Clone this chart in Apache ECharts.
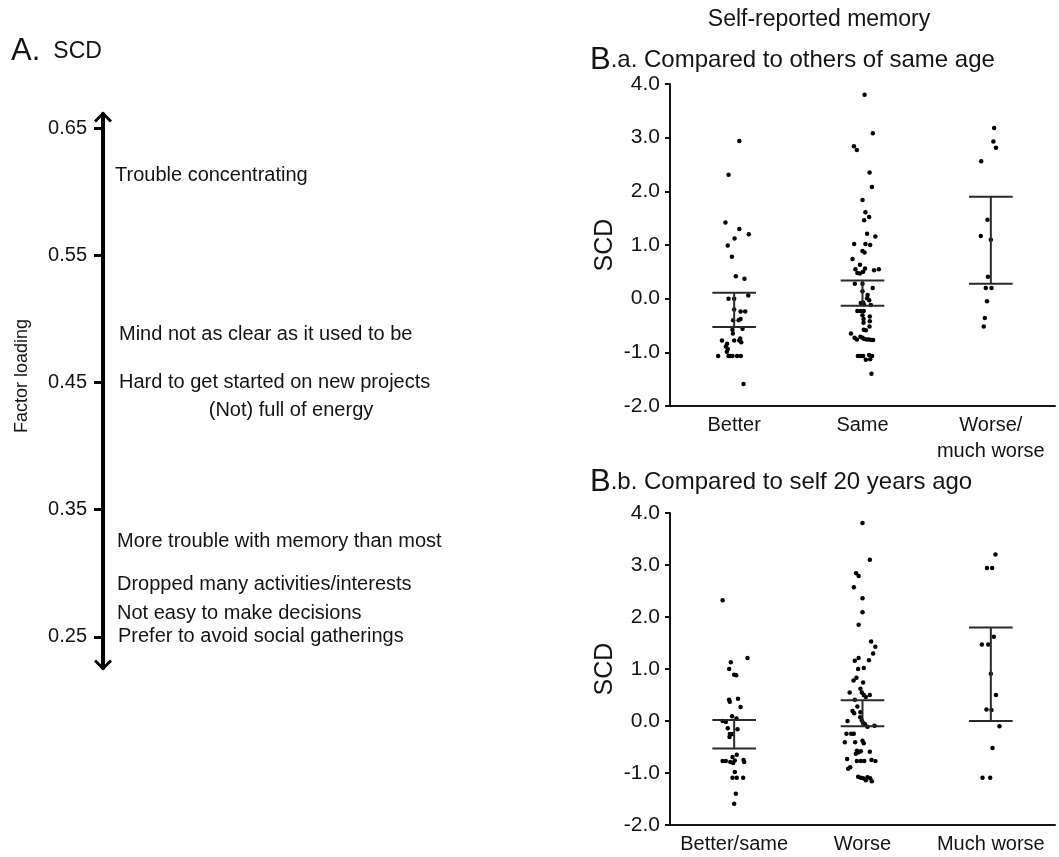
<!DOCTYPE html>
<html>
<head>
<meta charset="utf-8">
<title>SCD factor loadings and self-reported memory</title>
<script src="https://cdn.jsdelivr.net/npm/echarts@6/dist/echarts.min.js"></script>
<style>
  html, body { margin: 0; padding: 0; background: #fff; }
  #chart { width: 1059px; height: 857px; }
</style>
</head>
<body>
<div id="chart"></div>
<script>
// A. factor loadings of the SCD items
const itemNames = [
  'Trouble concentrating',
  'Mind not as clear as it used to be',
  'Hard to get started on new projects',
  '(Not) full of energy',
  'More trouble with memory than most',
  'Dropped many activities/interests',
  'Not easy to make decisions',
  'Prefer to avoid social gatherings'
];
const itemLoadings = [0.613, 0.488, 0.45, 0.428, 0.325, 0.291, 0.268, 0.25];
const loadingTicks = [0.25, 0.35, 0.45, 0.55, 0.65];

// B.a compared to others of same age: [jitter, SCD]
const catsA = ['Better', 'Same', 'Worse/\nmuch worse'];
const baBetter = [
  [0.04, 2.94], [-0.044, 2.31], [-0.068, 1.42], [0.04, 1.30], [0.003, 1.12], [0.114, 1.20],
  [-0.05, 0.99], [-0.018, 0.78], [0.013, 0.42], [0.08, 0.37],
  [-0.044, 0.0], [0, 0.0], [0.11, 0.06], [0, -0.2], [0.05, -0.24], [0.086, -0.24],
  [-0.008, -0.40], [0.035, -0.40], [0.05, -0.38],
  [-0.013, -0.58], [0.065, -0.56], [-0.01, -0.65], [-0.095, -0.78], [0, -0.78], [0.047, -0.74],
  [0.04, -0.78], [0.055, -0.81], [-0.055, -0.84], [-0.065, -0.89], [-0.05, -0.94], [-0.057, -0.99],
  [-0.125, -1.07], [-0.044, -1.07], [-0.03, -1.07], [-0.013, -1.07], [0.023, -1.07], [0.052, -1.07],
  [0.073, -1.59]
];
const baSame = [
  [0.016, 3.80], [0.08, 3.08], [-0.067, 2.84], [-0.044, 2.77], [0.055, 2.35], [0.073, 2.08],
  [0, 1.84], [0.023, 1.61], [0.052, 1.52], [0.013, 1.46], [0.036, 1.21], [0.10, 1.16],
  [-0.065, 1.02], [0.023, 1.02], [0.06, 1.0], [0, 0.89], [0.016, 0.86], [-0.078, 0.74],
  [-0.02, 0.63], [-0.055, 0.55], [-0.04, 0.48], [-0.02, 0.47], [0.005, 0.5], [0.02, 0.56],
  [0.09, 0.53], [0.127, 0.55],
  [-0.06, 0.28], [0, 0.28], [0.08, 0.2], [0, 0.14], [0.04, 0.07], [0.036, 0.01], [0.052, -0.03],
  [0.005, -0.07], [-0.013, -0.08], [0.01, -0.11], [0.065, -0.12],
  [-0.04, -0.23], [-0.016, -0.23], [0.01, -0.23], [0, -0.31], [0.057, -0.33], [0.008, -0.38],
  [0.057, -0.42], [0.008, -0.45], [0.055, -0.52], [0.01, -0.58], [0.026, -0.59], [-0.09, -0.65],
  [-0.062, -0.73], [-0.044, -0.76], [-0.016, -0.71], [0, -0.73], [0.013, -0.75], [0.034, -0.76],
  [0.05, -0.76], [0.07, -0.77], [0.083, -0.77],
  [-0.036, -1.07], [-0.016, -1.07], [0.005, -1.07], [0.052, -1.05], [0.075, -1.07],
  [0.026, -1.14], [0.06, -1.13], [0.07, -1.40]
];
const baWorse = [
  [0.026, 3.18], [0.02, 2.93], [0.04, 2.81], [-0.075, 2.56], [-0.026, 1.47], [-0.078, 1.17],
  [0, 1.10], [-0.023, 0.41], [-0.039, 0.2], [0.005, 0.2], [-0.03, -0.05], [-0.047, -0.36],
  [-0.055, -0.52]
];
const baLow = [-0.53, -0.13, 0.28];
const baHigh = [0.11, 0.34, 1.9];

// B.b compared to self 20 years ago: [jitter, SCD]
const catsB = ['Better/same', 'Worse', 'Much worse'];
const bbBetter = [
  [-0.09, 2.32], [0.104, 1.21], [-0.026, 1.13], [-0.039, 1.0], [0, 0.89], [0.016, 0.88],
  [-0.04, 0.41], [-0.034, 0.37], [0.03, 0.43], [0.05, 0.27], [-0.016, 0.09], [-0.09, 0.0],
  [-0.065, -0.02], [0.018, 0.05], [-0.05, -0.14], [0.026, -0.16], [-0.034, -0.25], [-0.013, -0.25],
  [-0.036, -0.31], [0.02, -0.65], [-0.013, -0.69], [-0.09, -0.77], [-0.065, -0.77], [-0.03, -0.79],
  [-0.008, -0.81], [0.005, -0.76], [0.073, -0.75], [0.078, -0.79], [0.005, -0.98],
  [-0.013, -1.09], [0.02, -1.09], [0.07, -1.09], [0.013, -1.40], [0, -1.59]
];
const bbWorse = [
  [0, 3.81], [0.057, 3.10], [-0.05, 2.84], [-0.03, 2.79], [-0.067, 2.57], [0, 2.36], [0, 2.09],
  [-0.03, 1.85], [0.067, 1.53], [0.10, 1.43], [0.083, 1.30], [0.05, 1.17], [-0.03, 1.21],
  [-0.06, 1.16], [-0.034, 1.0], [0.01, 1.02], [-0.07, 0.78], [-0.047, 0.83], [0.005, 0.74],
  [-0.016, 0.62], [-0.1, 0.55], [-0.005, 0.55], [0.01, 0.5], [0.026, 0.46], [0.057, 0.5],
  [-0.06, 0.41], [-0.04, 0.28], [-0.078, 0.19], [-0.065, 0.15], [-0.016, 0.17], [-0.018, 0.07],
  [-0.117, 0.0], [-0.005, 0.01], [0.005, -0.04], [0.018, -0.06], [0.039, -0.11], [0.094, -0.09],
  [-0.125, -0.245], [-0.088, -0.245], [-0.068, -0.245], [-0.138, -0.41], [-0.057, -0.41],
  [0, -0.38], [0.01, -0.43], [-0.044, -0.57], [-0.03, -0.6], [-0.013, -0.58], [0.057, -0.59],
  [-0.052, -0.63], [-0.12, -0.73], [-0.044, -0.77], [-0.013, -0.77], [0.013, -0.77], [0.07, -0.75],
  [0.101, -0.77], [-0.096, -0.89], [-0.112, -0.92], [-0.034, -1.07], [-0.013, -1.09],
  [0.005, -1.10], [0.039, -1.08], [0.06, -1.10], [0.026, -1.14], [0.073, -1.16]
];
const bbMuch = [
  [0.036, 3.20], [-0.03, 2.94], [0.01, 2.94], [0.023, 1.62], [-0.07, 1.47], [-0.02, 1.47],
  [0, 0.91], [0.04, 0.5], [-0.034, 0.22], [0.005, 0.21], [0.067, -0.1], [0.013, -0.52],
  [-0.065, -1.09], [-0.005, -1.09]
];
const bbLow = [-0.53, -0.1, 0.0];
const bbHigh = [0.02, 0.4, 1.8];

const scdTicks = [-2, -1, 0, 1, 2, 3, 4];

const FONT = 'Liberation Sans, Arial, Helvetica, sans-serif';
const INK = '#141414';

// label indent from the arrow axis (px), (Not) full of energy is centred
const labelIndent = [12, 16, 16, 188, 14, 14, 14, 15];

function stripData(groups) {
  const out = [];
  groups.forEach((g, i) => {
    g.forEach(p => out.push([i + p[0], p[1]]));
  });
  return out;
}

function errorData(low, high) {
  return low.map((v, i) => [i, v, high[i]]);
}

const capHalf = 0.17;
function renderErrorBar(params, api) {
  const i = api.value(0);
  const lo = api.coord([i, api.value(1)]);
  const hi = api.coord([i, api.value(2)]);
  const xl = api.coord([i - capHalf, 0])[0];
  const xr = api.coord([i + capHalf, 0])[0];
  const style = { stroke: '#2a2a2a', lineWidth: 2 };
  return {
    type: 'group',
    children: [
      { type: 'line', shape: { x1: lo[0], y1: lo[1], x2: hi[0], y2: hi[1] }, style: style },
      { type: 'line', shape: { x1: xl, y1: hi[1], x2: xr, y2: hi[1] }, style: style },
      { type: 'line', shape: { x1: xl, y1: lo[1], x2: xr, y2: lo[1] }, style: style }
    ]
  };
}

function catAxis(gridIndex, cats) {
  return {
    type: 'category',
    gridIndex: gridIndex,
    data: cats,
    axisLine: { onZero: false, lineStyle: { color: INK, width: 2 } },
    axisTick: { show: false },
    axisLabel: {
      interval: 0, color: INK, fontSize: 20, fontFamily: FONT, margin: 6, lineHeight: 26
    }
  };
}

function jitterAxis(gridIndex) {
  return {
    type: 'value', gridIndex: gridIndex, min: -0.5, max: 2.5, show: false,
    axisLine: { onZero: false }
  };
}

function scdAxis(gridIndex) {
  return {
    type: 'value',
    gridIndex: gridIndex,
    min: scdTicks[0],
    max: scdTicks[scdTicks.length - 1],
    interval: 1,
    name: 'SCD',
    nameLocation: 'middle',
    nameGap: 52,
    nameTextStyle: { color: INK, fontSize: 25, fontFamily: FONT },
    axisLine: { show: true, onZero: false, lineStyle: { color: INK, width: 2 } },
    axisTick: { show: true, length: 5, lineStyle: { color: INK, width: 2 } },
    splitLine: { show: false },
    axisLabel: {
      color: INK, fontSize: 21, fontFamily: FONT, margin: 10,
      formatter: v => v.toFixed(1)
    }
  };
}

function panelTitle(text, top) {
  return {
    text: '{a|B}{b|' + text + '}',
    left: 590, top: top, padding: 0,
    textStyle: {
      rich: {
        a: { fontSize: 31, fontWeight: 'normal', color: INK, fontFamily: FONT },
        b: { fontSize: 24, fontWeight: 'normal', color: INK, fontFamily: FONT }
      }
    }
  };
}

const chevron = 'path://M0,0 L9,9 L7,11 L0,4 L-7,11 L-9,9 Z';

const option = {
  backgroundColor: '#fff',
  animation: false,
  textStyle: { fontFamily: FONT },
  title: [
    {
      text: '{a|A.}{b|SCD}',
      left: 11, top: 36, padding: 0,
      textStyle: {
        rich: {
          a: { fontSize: 31, fontWeight: 'normal', color: INK, fontFamily: FONT },
          b: { fontSize: 23, fontWeight: 'normal', color: INK, fontFamily: FONT, padding: [0, 0, 0, 13] }
        }
      }
    },
    {
      text: 'Self-reported memory',
      left: 819, top: 8, padding: 0, textAlign: 'center',
      textStyle: { fontSize: 23, fontWeight: 'normal', color: INK, fontFamily: FONT }
    },
    panelTitle('.a. Compared to others of same age', 45),
    panelTitle('.b. Compared to self 20 years ago', 467)
  ],
  grid: [
    { left: 103, top: 114, width: 450, height: 554 },
    { left: 670, top: 84, width: 385, height: 322 },
    { left: 670, top: 513, width: 385, height: 319 }
  ],
  xAxis: [
    { type: 'value', gridIndex: 0, min: 0, max: 450, show: false, axisLine: { onZero: false } },
    catAxis(1, catsA),
    jitterAxis(1),
    catAxis(2, catsB),
    jitterAxis(2)
  ],
  yAxis: [
    {
      type: 'value',
      gridIndex: 0,
      min: 0.2255,
      max: 0.661,
      name: 'Factor loading',
      nameLocation: 'middle',
      nameGap: 72,
      nameTextStyle: { color: INK, fontSize: 18, fontFamily: FONT, padding: [0, 0, 0, 30] },
      axisLine: {
        show: true,
        onZero: false,
        symbol: [chevron, chevron],
        symbolSize: [18, 12],
        symbolOffset: [3, -3],
        lineStyle: { color: '#000', width: 4 }
      },
      axisTick: {
        show: true, length: 9, customValues: loadingTicks,
        lineStyle: { color: '#000', width: 3 }
      },
      splitLine: { show: false },
      axisLabel: {
        color: INK, fontSize: 20, fontFamily: FONT, margin: 16,
        customValues: loadingTicks,
        formatter: v => v.toFixed(2)
      }
    },
    scdAxis(1),
    scdAxis(2)
  ],
  series: [
    {
      type: 'scatter',
      xAxisIndex: 0, yAxisIndex: 0,
      symbolSize: 0,
      silent: true,
      itemStyle: { opacity: 1 },
      data: itemNames.map((n, i) => ({
        name: n,
        value: [labelIndent[i], itemLoadings[i]],
        label: i === 3 ? { position: 'inside', align: 'center' } : {}
      })),
      label: {
        show: true, position: 'right', distance: 0,
        color: INK, fontSize: 20, fontFamily: FONT,
        formatter: p => p.name
      }
    },
    {
      type: 'scatter', xAxisIndex: 2, yAxisIndex: 1,
      symbolSize: 4.5, itemStyle: { color: '#000', opacity: 1 },
      data: stripData([baBetter, baSame, baWorse])
    },
    {
      type: 'custom', xAxisIndex: 2, yAxisIndex: 1,
      renderItem: renderErrorBar,
      encode: { x: 0, y: [1, 2] },
      data: errorData(baLow, baHigh),
      z: 3
    },
    {
      type: 'scatter', xAxisIndex: 4, yAxisIndex: 2,
      symbolSize: 4.5, itemStyle: { color: '#000', opacity: 1 },
      data: stripData([bbBetter, bbWorse, bbMuch])
    },
    {
      type: 'custom', xAxisIndex: 4, yAxisIndex: 2,
      renderItem: renderErrorBar,
      encode: { x: 0, y: [1, 2] },
      data: errorData(bbLow, bbHigh),
      z: 3
    }
  ]
};

const myChart = echarts.init(document.getElementById('chart'));
myChart.setOption(option);
window.onresize = () => {
  myChart.resize();
};
</script>
</body>
</html>
